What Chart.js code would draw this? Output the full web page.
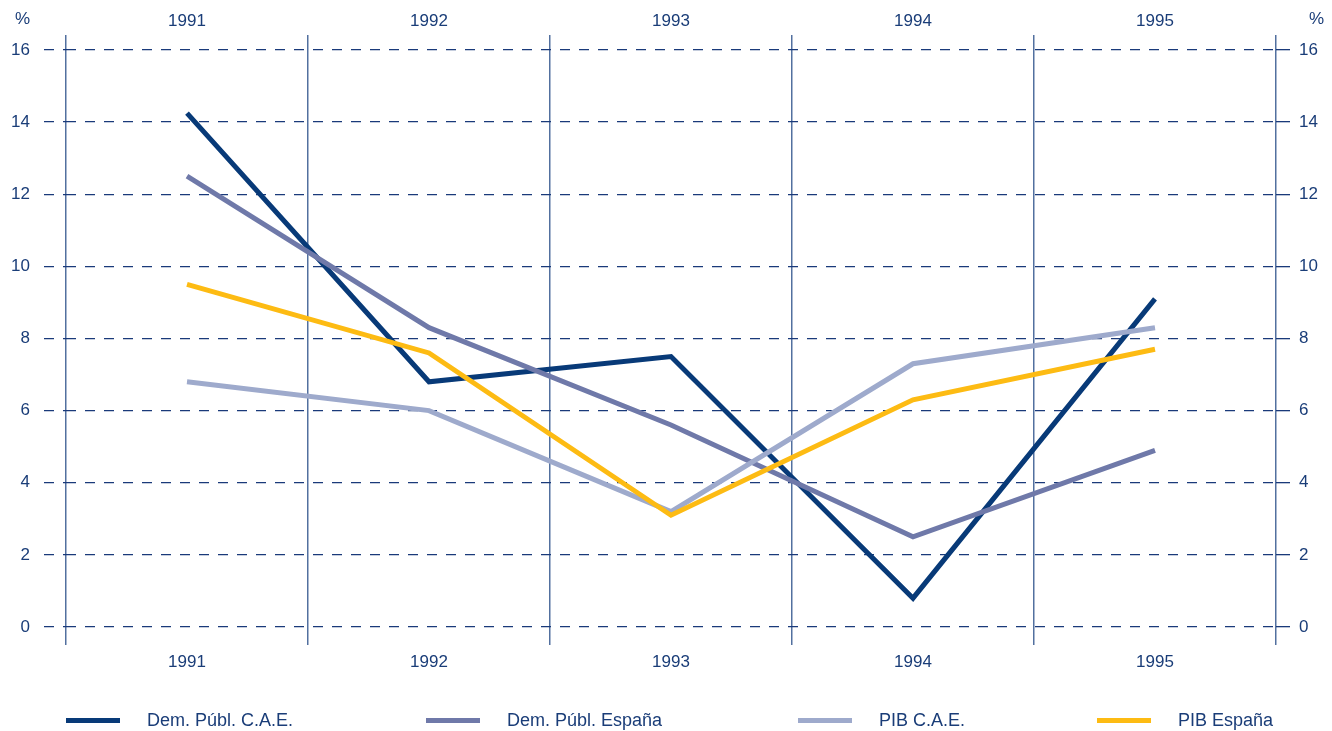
<!DOCTYPE html>
<html><head><meta charset="utf-8">
<script src="https://cdn.jsdelivr.net/npm/chart.js@4/dist/chart.umd.min.js"></script>
<style>
html,body{margin:0;padding:0;background:#fff;}
#wrap{position:relative;width:1332px;height:731px;}
#legend{position:absolute;left:0;top:708px;width:1332px;height:24px;font-family:"Liberation Sans",Arial,sans-serif;font-size:18px;color:#1a3d78;}
.li{position:absolute;top:0;display:flex;align-items:center;height:24px;}
.sw{width:54px;height:5px;margin-right:27px;}
</style>
</head><body>
<div id="wrap"><canvas id="c" width="1332" height="731"></canvas><div id="legend"></div></div>
<script>
const categories = ['1991','1992','1993','1994','1995'];
const demPublCAE = [14.25, 6.8, 7.5, 0.8, 9.1];
const demPublEspana = [12.5, 8.3, 5.6, 2.5, 4.9];
const pibCAE = [6.8, 6.0, 3.2, 7.3, 8.3];
const pibEspana = [9.5, 7.6, 3.1, 6.3, 7.7];
const seriesNames = ['Dem. Públ. C.A.E.', 'Dem. Públ. España', 'PIB C.A.E.', 'PIB España'];
const seriesColors = ['#083a78', '#6f79a9', '#9eaacc', '#fdbb13'];
const yTicks = [0, 2, 4, 6, 8, 10, 12, 14, 16];

const textColor = '#1a3d78';
const fam = '"Liberation Sans", Arial, sans-serif';
const font = {family: fam, size: 17};

const pctPlugin = {
  id: 'pct',
  afterDraw(chart) {
    const ctx = chart.ctx;
    ctx.save();
    ctx.fillStyle = textColor;
    ctx.font = '17px ' + fam;
    ctx.textBaseline = 'middle';
    ctx.textAlign = 'left';
    ctx.fillText('%', 15, 19);
    ctx.fillText('%', 1309, 19);
    ctx.restore();
  }
};

const allSeries = [demPublCAE, demPublEspana, pibCAE, pibEspana];
const chart = new Chart(document.getElementById('c'), {
  type: 'line',
  data: {
    labels: categories,
    datasets: allSeries.map((d, i) => ({
      label: seriesNames[i],
      data: d,
      borderColor: seriesColors[i],
      backgroundColor: seriesColors[i],
      borderWidth: 5,
      pointRadius: 0,
      tension: 0,
      fill: false,
      order: 3 - i,
      borderCapStyle: 'butt',
      borderJoinStyle: 'miter'
    }))
  },
  options: {
    responsive: false,
    animation: false,
    devicePixelRatio: 1,
    plugins: {legend: {display: false}, tooltip: {enabled: false}},
    layout: {padding: 0},
    scales: {
      x: {
        position: 'bottom',
        offset: true,
        grid: {offset: true, color: '#52709f', lineWidth: 1.5, drawTicks: true, tickLength: 18, tickColor: '#52709f'},
        border: {display: false},
        ticks: {color: textColor, font: font, padding: 7, maxRotation: 0},
        afterFit(s) { s.height = 104; }
      },
      x2: {
        position: 'top',
        offset: true,
        labels: categories,
        grid: {offset: true, drawOnChartArea: false, color: '#52709f', lineWidth: 1.5, tickLength: 15, tickColor: '#52709f'},
        border: {display: false},
        ticks: {color: textColor, font: font, padding: 3, maxRotation: 0},
        afterFit(s) { s.height = 50; }
      },
      y: {
        position: 'left',
        min: 0, max: 16,
        afterBuildTicks(s) { s.ticks = yTicks.map(v => ({value: v})); },
        grid: {color: '#1a3a7a', lineWidth: 1.3, tickLength: 22, tickColor: '#1a3a7a', tickBorderDash: [10, 9]},
        border: {display: false, dash: [10, 9]},
        ticks: {color: textColor, font: font, padding: 14},
        afterFit(s) { s.width = 66; }
      },
      y2: {
        position: 'right',
        min: 0, max: 16,
        afterBuildTicks(s) { s.ticks = yTicks.map(v => ({value: v})); },
        grid: {drawOnChartArea: false, color: '#1a3a7a', lineWidth: 1.3, tickLength: 14, tickColor: '#1a3a7a'},
        border: {display: false},
        ticks: {color: textColor, font: font, padding: 9},
        afterFit(s) { s.width = 56; }
      }
    }
  },
  plugins: [pctPlugin]
});

// HTML legend
const legendX = [66, 426, 798, 1097];
const lg = document.getElementById('legend');
seriesNames.forEach((n, i) => {
  const d = document.createElement('div');
  d.className = 'li';
  d.style.left = legendX[i] + 'px';
  d.innerHTML = '<span class="sw" style="background:' + seriesColors[i] + '"></span><span>' + n + '</span>';
  lg.appendChild(d);
});
</script>
</body></html>
